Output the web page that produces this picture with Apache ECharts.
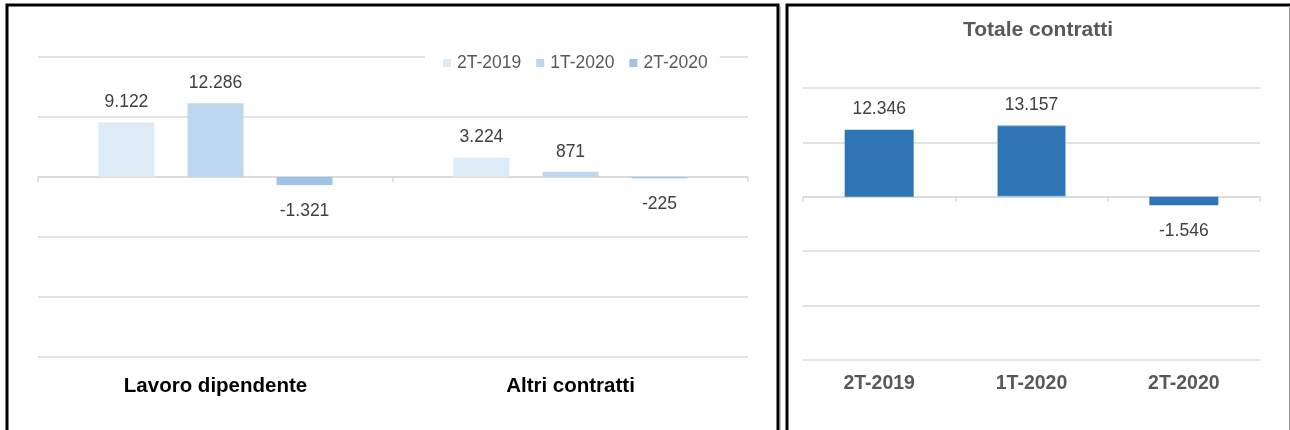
<!DOCTYPE html>
<html>
<head>
<meta charset="utf-8">
<script src="https://cdn.jsdelivr.net/npm/echarts@6/dist/echarts.min.js"></script>
<style>
html,body{margin:0;padding:0;background:#fff;}
#c{width:1290px;height:430px;}
</style>
</head>
<body>
<div id="c"></div>
<script>
// ---- data ----
const leftCategories = ['Lavoro dipendente', 'Altri contratti'];
const seriesNames = ['2T-2019', '1T-2020', '2T-2020'];
const s2T2019 = [9122, 3224];
const s1T2020 = [12286, 871];
const s2T2020 = [-1321, -225];
const rightCategories = ['2T-2019', '1T-2020', '2T-2020'];
const totaleContratti = [12346, 13157, -1546];
const rightTitle = 'Totale contratti';
const yMin = -30000, yMax = 20000, yInterval = 10000;

const leftColors = ['#DDEBF7', '#BDD7EE', '#9DC3E6'];
const rightColor = '#2E75B6';

function fmt(v) {
  const neg = v < 0;
  const s = String(Math.abs(v)).replace(/\B(?=(\d{3})+(?!\d))/g, '.');
  return (neg ? '-' : '') + s;
}
function toItems(arr, extra) {
  return arr.map((v, i) => {
    const it = { value: v };
    if (v < 0) it.label = { position: 'bottom', distance: 17 };
    if (extra && extra[i]) Object.assign(it, extra[i]);
    return it;
  });
}

const FONT = '"Liberation Sans", Arial, sans-serif';
const gridColor = '#d9d9d9';

const chart = echarts.init(document.getElementById('c'), null, { renderer: 'canvas' });

const valueLabel = {
  show: true, position: 'top', distance: 11,
  color: '#404040', fontSize: 17.5, fontFamily: FONT,
  formatter: p => fmt(p.value)
};

function valueAxis(gridIndex) {
  return {
    type: 'value', gridIndex, min: yMin, max: yMax, interval: yInterval,
    axisLabel: { show: false }, axisLine: { show: false }, axisTick: { show: false },
    splitLine: { show: true, lineStyle: { color: gridColor, width: 1.5 } }
  };
}

const leftData = [s2T2019, s1T2020, s2T2020];

const option = {
  animation: false,
  backgroundColor: '#fff',
  legend: {
    data: seriesNames,
    left: 425, top: 51,
    padding: [3, 12, 3, 18],
    backgroundColor: '#fff',
    itemWidth: 8, itemHeight: 8, itemGap: 15,
    icon: 'rect',
    textStyle: { color: '#595959', fontSize: 17.5, fontFamily: FONT, padding: [0, 0, 0, 1] },
    z: 10
  },
  grid: [
    { left: 38, right: 542, top: 57, bottom: 73 },
    { left: 803, right: 30, top: 88, bottom: 70 }
  ],
  xAxis: [
    { type: 'category', gridIndex: 0, data: leftCategories,
      axisLine: { onZero: true, lineStyle: { color: gridColor, width: 1.5 } },
      axisTick: { show: true, length: 5, lineStyle: { color: gridColor, width: 1.5 } },
      axisLabel: { show: false } },
    { type: 'category', gridIndex: 0, data: leftCategories, position: 'bottom',
      axisLine: { show: false, onZero: false }, axisTick: { show: false },
      axisLabel: { show: true, margin: 19, color: '#000', fontSize: 20.5, fontWeight: 'bold', fontFamily: FONT } },
    { type: 'category', gridIndex: 1, data: rightCategories,
      axisLine: { onZero: true, lineStyle: { color: gridColor, width: 1.5 } },
      axisTick: { show: true, length: 5, lineStyle: { color: gridColor, width: 1.5 } },
      axisLabel: { show: false } },
    { type: 'category', gridIndex: 1, data: rightCategories, position: 'bottom',
      axisLine: { show: false, onZero: false }, axisTick: { show: false },
      axisLabel: { show: true, margin: 14, color: '#595959', fontSize: 19.5, fontWeight: 'bold', fontFamily: FONT } }
  ],
  yAxis: [valueAxis(0), valueAxis(1)],
  series: seriesNames.map((name, k) => ({
    name, type: 'bar', xAxisIndex: 0, yAxisIndex: 0,
    data: toItems(leftData[k]),
    barWidth: 56, barGap: '59%',
    itemStyle: { color: leftColors[k] },
    label: valueLabel
  })).concat([{
    name: rightTitle, type: 'bar', xAxisIndex: 2, yAxisIndex: 1,
    data: toItems(totaleContratti, [null, { itemStyle: { borderColor: '#9DC3E6', borderWidth: 1 } }, null]),
    barWidth: 69,
    itemStyle: { color: rightColor },
    label: valueLabel
  }]),
  graphic: [
    { type: 'text', x: 1038, y: 30, z: 10,
      style: { text: rightTitle, fill: '#595959', font: 'bold 21px "Liberation Sans", Arial, sans-serif',
        textAlign: 'center', textVerticalAlign: 'middle' } },
    // left panel border
    { type: 'polyline', z: 20, shape: { points: [[7, 440], [7, 5], [778, 5], [778, 440]] },
      style: { stroke: '#000', lineWidth: 3, fill: null } },
    { type: 'line', z: 20, shape: { x1: 780.5, y1: 7, x2: 780.5, y2: 440 },
      style: { stroke: '#bbb', lineWidth: 1 } },
    // right panel border
    { type: 'polyline', z: 20, shape: { points: [[787, 440], [787, 5], [1290, 5]] },
      style: { stroke: '#000', lineWidth: 3, fill: null } },
    { type: 'line', z: 20, shape: { x1: 1289.5, y1: 6, x2: 1289.5, y2: 440 },
      style: { stroke: '#999', lineWidth: 1 } }
  ]
};
chart.setOption(option);
</script>
</body>
</html>
